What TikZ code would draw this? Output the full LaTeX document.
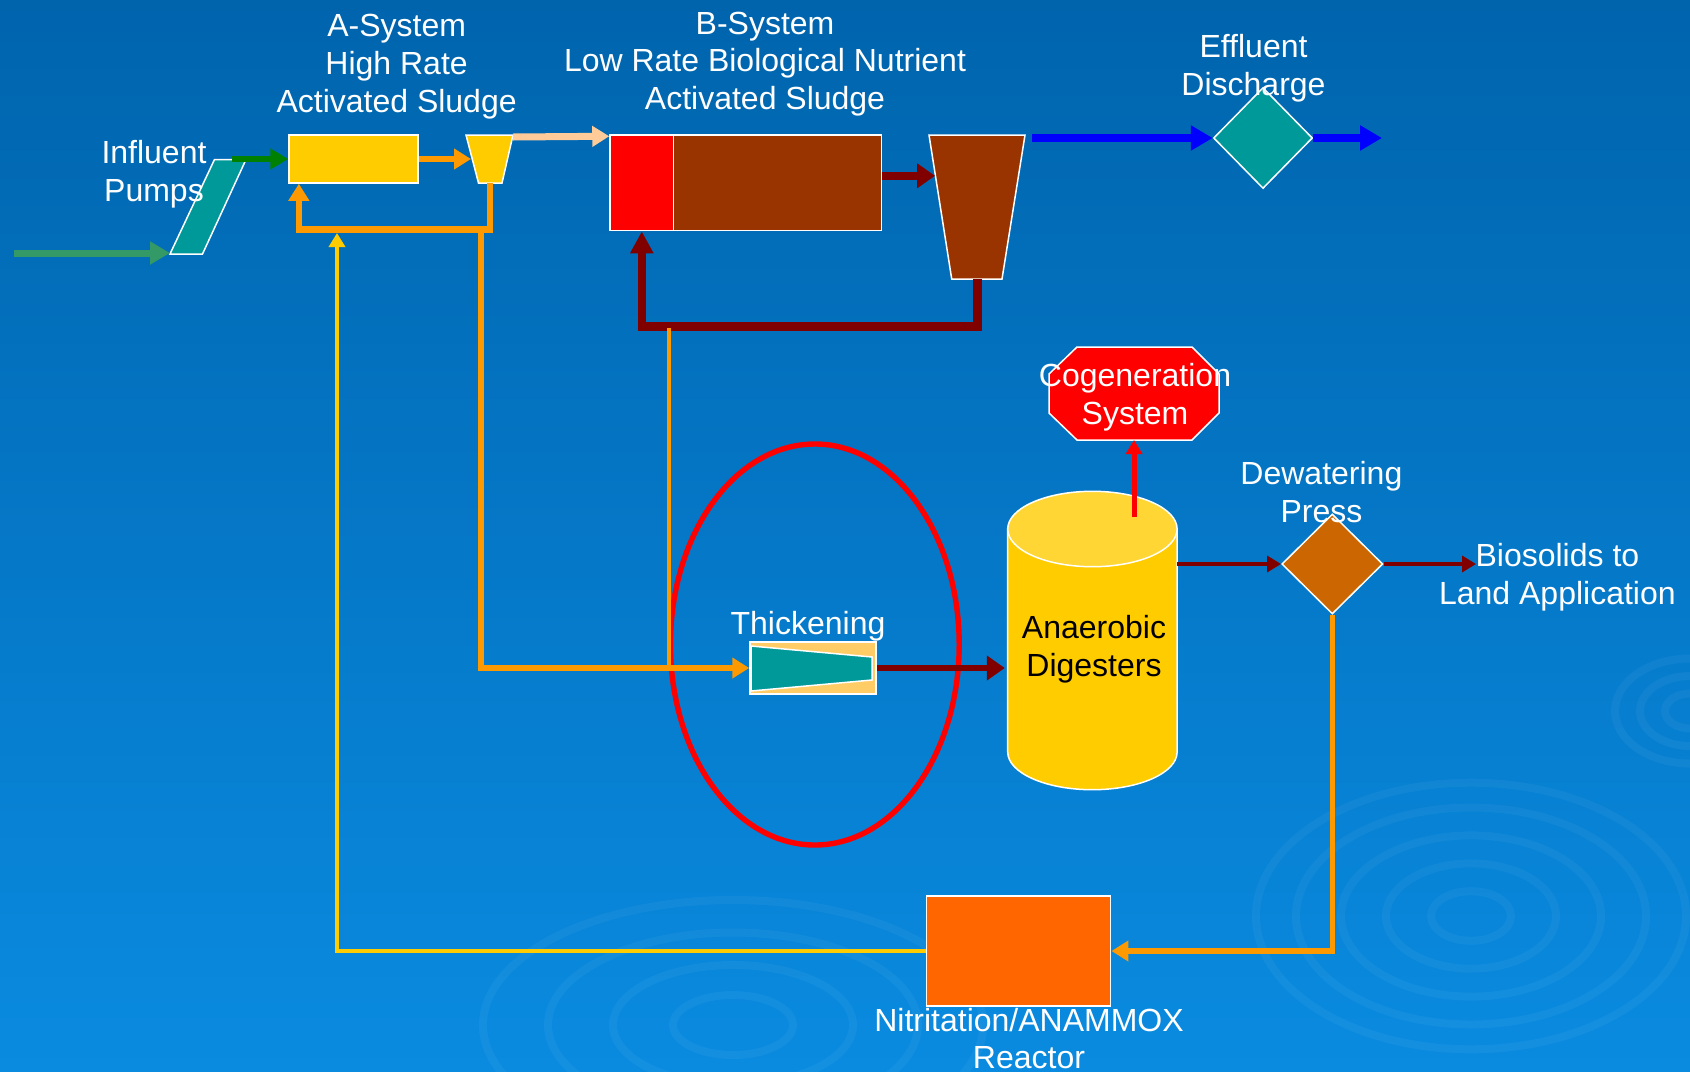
\documentclass[tikz,border=0pt]{standalone}
\usepackage{fontspec}
\setmainfont{Liberation Sans}
\usetikzlibrary{arrows.meta,shapes.geometric,calc}
\definecolor{bgtop}{HTML}{0064AD}
\definecolor{bgmid}{HTML}{0070BD}
\definecolor{bgbot}{HTML}{0A8BE0}
\definecolor{tealc}{HTML}{009999}
\definecolor{ayellow}{HTML}{FFCC00}
\definecolor{aorange}{HTML}{FF9900}
\definecolor{lorange}{HTML}{FFCC99}
\definecolor{bredc}{HTML}{FF0000}
\definecolor{brownc}{HTML}{993300}
\definecolor{dred}{HTML}{800000}
\definecolor{bluec}{HTML}{0000FF}
\definecolor{pgreen}{HTML}{339966}
\definecolor{ggreen}{HTML}{008000}
\definecolor{pressc}{HTML}{CC6600}
\definecolor{reactc}{HTML}{FF6600}
\definecolor{thickc}{HTML}{FFCC66}
\definecolor{digtopc}{HTML}{FFD633}
\newcommand\lblfont{\fontsize{16}{18.85}\selectfont}
\begin{document}
\begin{tikzpicture}[x=0.5pt,y=-0.5pt,
  edge/.style={draw=white,line width=0.75pt},
  lbl/.style={text=white,align=center,font=\lblfont,inner sep=0pt},
  hidden/.style={draw=none,fill=none,inner sep=0pt,outer sep=0pt,rectangle},
  flow/.style={line cap=butt,line join=miter},
  ginarrow/.style={flow,draw=pgreen,line width=3.5pt,-{Triangle[length=10pt,width=11pt]}},
  gtoparrow/.style={flow,draw=ggreen,line width=3pt,-{Triangle[length=9pt,width=10pt]}},
  oarrow/.style={flow,draw=aorange,line width=3pt,-{Triangle[length=8.5pt,width=10pt]}},
  loarrow/.style={flow,draw=lorange,line width=3.5pt,-{Triangle[length=8.5pt,width=10pt]}},
  drarrow/.style={flow,draw=dred,line width=4pt,-{Triangle[length=9pt,width=12pt]}},
  drretarrow/.style={flow,draw=dred,line width=4.3pt,-{Triangle[length=11pt,width=11pt]}},
  barrow/.style={flow,draw=bluec,line width=4pt,-{Triangle[length=11pt,width=12pt]}},
  yarrow/.style={flow,draw=ayellow,line width=1.75pt,-{Triangle[length=7pt,width=8pt]}},
  redup/.style={flow,draw=bredc,line width=2.5pt,-{Triangle[length=7pt,width=8pt]}},
  drthin/.style={flow,draw=dred,line width=2.4pt,-{Triangle[length=7pt,width=8pt]}},
  rippl/.style={draw=white,draw opacity=0.045,line width=4pt}]

% background
\useasboundingbox (0,0) rectangle (1690,1071);
\shade[top color=bgtop,middle color=bgmid,bottom color=bgbot] (0,0) rectangle (1690,1071);

% ripples
\foreach \r in {40,85,130,175,215}{\draw[rippl] (1471,916) ellipse [x radius=\r,y radius={0.62*\r}];}
\foreach \r in {60,120,185,250}{\draw[rippl] (733,1025) ellipse [x radius=\r,y radius={0.5*\r}];}
\foreach \r in {25,50,75}{\draw[rippl] (1690,711) ellipse [x radius=\r,y radius={0.7*\r}];}

% ---------- Influent pumps
\filldraw[fill=tealc,edge] (214.5,159.5) -- (246,159.5) -- (202.5,254) -- (170,254) -- cycle;
\coordinate (influent) at (14,253);
\coordinate (pumpin) at (170,253);
\coordinate (pumpout) at (232,159);
\node[lbl] (pumplbl) at (154,174) {Influent\\Pumps};

% ---------- A-System
\node[rectangle,fill=ayellow,edge,minimum width=64.5pt,minimum height=24pt,inner sep=0pt] (abox) at (353.5,159) {};
\filldraw[fill=ayellow,edge] (466,135) -- (513,135) -- (502,183) -- (478.5,183) -- cycle;
\coordinate (aclarL) at (471,159);
\coordinate (aclarB) at (490,183);
\coordinate (aclarTR) at (513,137);
\node[lbl] (alabel) at (396.6,66.5) {A-System\\High Rate\\Activated Sludge};

% ---------- B-System
\node[rectangle,fill=bredc,edge,minimum width=31.8pt,minimum height=47.8pt,inner sep=0pt] (bred) at (641.8,182.8) {};
\node[rectangle,fill=brownc,edge,minimum width=104pt,minimum height=47.8pt,inner sep=0pt] (bbrown) at (777.6,182.8) {};
\filldraw[fill=brownc,edge] (929,135) -- (1025,135) -- (1002,279) -- (951.7,279) -- cycle;
\coordinate (bclarL) at (935,175.8);
\coordinate (bclarB) at (977.6,279);
\coordinate (bclarR) at (1032,138);
\node[lbl] (blabel) at (765,64) {B-System\\Low Rate Biological Nutrient\\Activated Sludge};

% ---------- Effluent
\node[diamond,fill=tealc,edge,minimum width=49.5pt,minimum height=50.5pt,inner sep=0pt] (eff) at (1263,138) {};
\coordinate (effout) at (1382,138);
\node[lbl] (efflbl) at (1253.5,68.5) {Effluent\\Discharge};

% ---------- Thickening
\draw[bredc,line width=2.7pt] (814.8,644.5) ellipse [x radius=144.4,y radius=200.5];
\node[rectangle,fill=thickc,edge,minimum width=63pt,minimum height=26pt,inner sep=0pt] (thick) at (813,668) {};
\filldraw[fill=tealc,edge] (751,646) -- (872,657) -- (872,680) -- (751,691) -- cycle;
\node[lbl] (thicklbl) at (808,626) {Thickening};

% ---------- Digesters
\filldraw[fill=ayellow,edge] (1007.7,529) -- (1007.7,752) arc[start angle=180,end angle=0,x radius=84.7,y radius=37.7] -- (1177,529) -- cycle;
\filldraw[fill=digtopc,edge] (1092.4,529) ellipse [x radius=84.7,y radius=37.7];
\node[hidden,minimum width=84.65pt,minimum height=149.5pt] (dig) at (1092.4,640.5) {};
\node[lbl,text=black] (diglbl) at (1094,649.5) {Anaerobic\\Digesters};
\coordinate (digtop) at (1134,517);

% ---------- Cogeneration
\filldraw[fill=bredc,edge] (1077,347) -- (1192,347) -- (1219,374) -- (1219,413) -- (1192,440) -- (1077,440) -- (1049,413) -- (1049,374) -- cycle;
\node[hidden,minimum width=85pt,minimum height=46.5pt] (cogen) at (1134,393.5) {};
\node[lbl] (cogenlbl) at (1135,397.4) {Cogeneration\\System};

% ---------- Dewatering press
\node[diamond,fill=pressc,edge,minimum width=50.5pt,minimum height=50pt,inner sep=0pt] (press) at (1332.3,564) {};
\node[lbl] (presslbl) at (1321.4,492.4) {Dewatering\\Press};
\coordinate (bioin) at (1476,564);
\node[lbl] (biolbl) at (1557.4,577) {Biosolids to\\Land Application};

% ---------- Reactor
\node[rectangle,fill=reactc,edge,minimum width=92pt,minimum height=55pt,inner sep=0pt] (reactor) at (1018.7,951) {};
\node[lbl] (reactlbl) at (1029,1038.5) {Nitritation/ANAMMOX\\Reactor};

% ---------- connectors
\draw[ginarrow] (influent) -- (pumpin);
\draw[gtoparrow] (pumpout) -- (abox.west);
\draw[oarrow] (abox.east) -- (aclarL);
\draw[loarrow] (aclarTR) -- ([yshift=-1pt]bred.north west);
\draw[oarrow,line width=3.25pt] (aclarB) -- ++(0,46.6) -| ([xshift=5.3pt]abox.south west);
\coordinate (ojunc) at (480.7,229.6);
\draw[oarrow] (ojunc) |- (thick.west);
\draw[drarrow] ([yshift=3.5pt]bbrown.east) -- (bclarL);
\draw[drretarrow] (bclarB) -- ++(0,47.6) -| (bred.south);
\coordinate (bjunc) at (669,328);
\draw[flow,draw=aorange,line width=2pt] (bjunc) -- (bjunc |- thick.west);
\draw[barrow] (bclarR) -- (eff.west);
\draw[barrow] (eff.east) -- (effout);
\draw[drarrow,line width=3pt] (thick.east) -- ([xshift=-1.5pt]dig.west |- thick.east);
\draw[redup] (digtop) -- (cogen.south);
\draw[drthin] (dig.east |- press.west) -- (press.west);
\draw[drthin,line width=2pt] (press.east) -- (bioin);
\draw[oarrow,line width=2.6pt] (press.south) |- (reactor.east);
\coordinate (ytip) at (337,233);
\draw[yarrow] (reactor.west) -| (ytip);
\end{tikzpicture}
\end{document}
